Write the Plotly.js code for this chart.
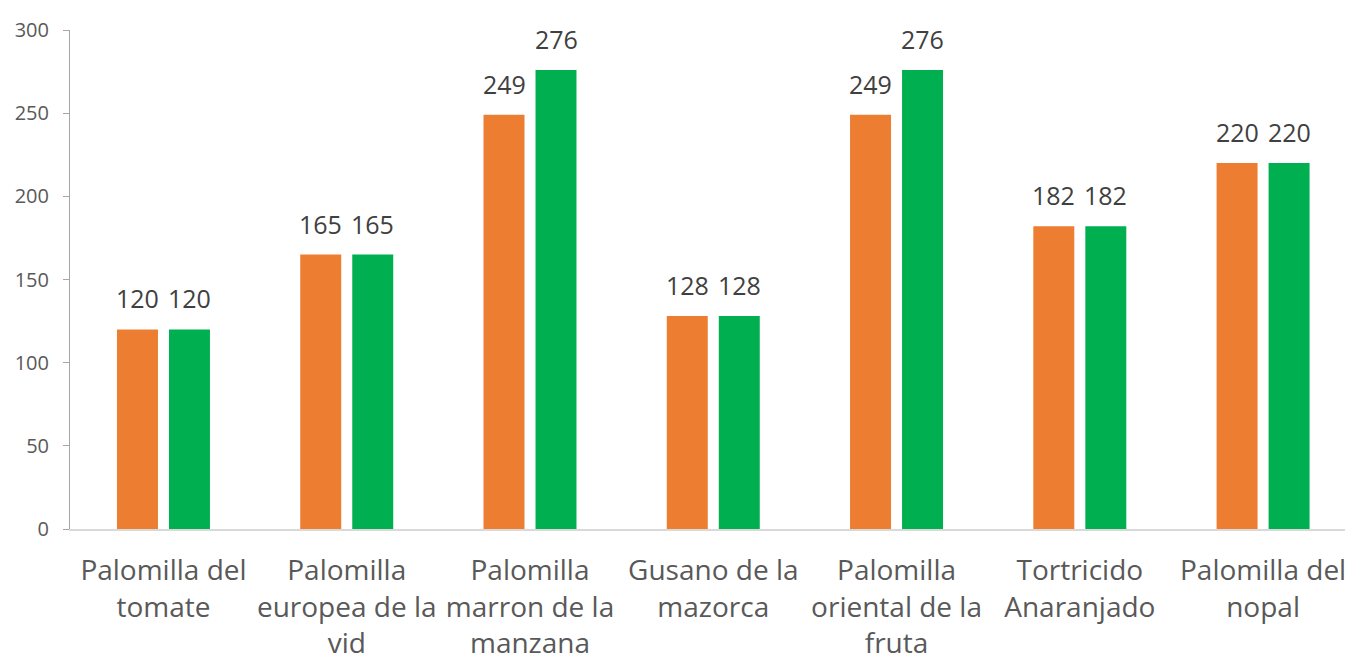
<!DOCTYPE html>
<html>
<head>
<meta charset="utf-8">
<script src="https://cdn.plot.ly/plotly-3.0.1.min.js"></script>
<style>html,body{margin:0;padding:0;background:#fff;}#chart{width:1345px;height:657px;}</style>
</head>
<body>
<div id="chart"></div>
<script>
const categories = [
  "Palomilla del<br>tomate",
  "Palomilla<br>europea de la<br>vid",
  "Palomilla<br>marron de la<br>manzana",
  "Gusano de la<br>mazorca",
  "Palomilla<br>oriental de la<br>fruta",
  "Tortricido<br>Anaranjado",
  "Palomilla del<br>nopal"
];
const seriesOrange = [120, 165, 249, 128, 249, 182, 220];
const seriesGreen = [120, 165, 276, 128, 276, 182, 220];
const yTicks = [0, 50, 100, 150, 200, 250, 300];

const labelFont = {family: "Open Sans, sans-serif", size: 25, color: "#404040"};

const traces = [
  {type: "bar", x: categories, y: seriesOrange, marker: {color: "#ED7D31"}, hoverinfo: "x+y"},
  {type: "bar", x: categories, y: seriesGreen, marker: {color: "#00B050"}, hoverinfo: "x+y"}
];

const annotations = [];
categories.forEach((c, i) => {
  annotations.push({x: c, y: seriesOrange[i], xref: "x", yref: "y", text: String(seriesOrange[i]),
    showarrow: false, xanchor: "center", yanchor: "bottom", xshift: -26, yshift: 12, font: labelFont});
  annotations.push({x: c, y: seriesGreen[i], xref: "x", yref: "y", text: String(seriesGreen[i]),
    showarrow: false, xanchor: "center", yanchor: "bottom", xshift: 26, yshift: 12, font: labelFont});
});

const layout = {
  width: 1345, height: 657,
  margin: {l: 70, r: 0, t: 30, b: 128, pad: 0},
  paper_bgcolor: "#fff", plot_bgcolor: "#fff",
  showlegend: false,
  barmode: "group",
  bargap: 0.4325,
  bargroupgap: 0.212,
  font: {family: "Open Sans, sans-serif", color: "#595959"},
  annotations: annotations,
  xaxis: {
    type: "category",
    range: [-0.51, 6.447],
    showgrid: false, zeroline: false,
    showline: true, linecolor: "#D9D9D9", linewidth: 1.5,
    ticks: "",
    tickfont: {family: "Open Sans, sans-serif", size: 28, color: "#595959"},
    tickangle: 0,
    ticklabelstandoff: 16,
    automargin: false
  },
  yaxis: {
    range: [0, 300],
    tickvals: yTicks,
    ticktext: yTicks.map(String),
    showgrid: false, zeroline: false,
    showline: true, linecolor: "#A6A6A6", linewidth: 1,
    ticks: "outside", ticklen: 6, tickcolor: "#A6A6A6",
    tickfont: {family: "Open Sans, sans-serif", size: 20, color: "#595959"},
    ticklabelstandoff: 10,
    automargin: false
  }
};

Plotly.newPlot("chart", traces, layout, {displayModeBar: false, staticPlot: true});
</script>
</body>
</html>
